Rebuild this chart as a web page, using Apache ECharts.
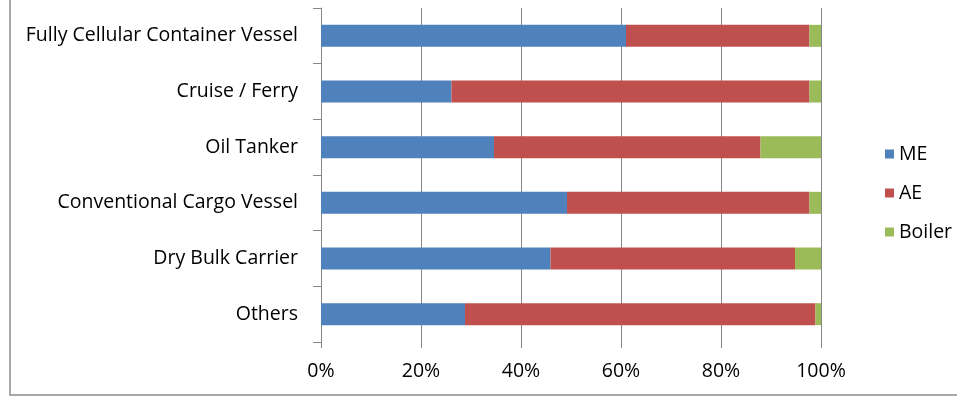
<!DOCTYPE html>
<html><head><meta charset="utf-8">
<script src="https://cdn.jsdelivr.net/npm/echarts@6/dist/echarts.min.js"></script>
<style>html,body{margin:0;padding:0;background:#fff}#c{width:957px;height:398px}</style>
</head><body><div id="c"></div>
<script>
const categories = ['Fully Cellular Container Vessel','Cruise / Ferry','Oil Tanker','Conventional Cargo Vessel','Dry Bulk Carrier','Others'];
const seriesNames = ['ME','AE','Boiler'];
const meValues = [61.0, 26.1, 34.6, 49.2, 45.9, 28.8];
const aeValues = [36.7, 71.6, 53.3, 48.5, 48.9, 70.1];
const boilerValues = [2.3, 2.3, 12.1, 2.3, 5.2, 1.1];
const xTicks = [0, 20, 40, 60, 80, 100];

const colors = ['#4F81BD','#C0504D','#9BBB59'];
const font = '"Open Sans", sans-serif';
const fs = 19.5;
const chart = echarts.init(document.getElementById('c'));
const data = [meValues, aeValues, boilerValues];
chart.setOption({
  animation:false,
  backgroundColor:'#fff',
  graphic:[{type:'rect',shape:{x:10,y:-5,width:1000,height:400},style:{fill:'none',stroke:'#8c8c8c',lineWidth:1.5},silent:true}],
  legend:{orient:'vertical',left:880,top:139,itemWidth:9,itemHeight:9,itemGap:19,icon:'rect',
    textStyle:{fontFamily:font,fontSize:fs,color:'#000'},data:seriesNames},
  grid:{left:321,right:136,top:8,bottom:56},
  xAxis:{type:'value',min:xTicks[0],max:xTicks[xTicks.length-1],interval:20,
    axisLine:{show:false},
    axisTick:{show:true,length:6,lineStyle:{color:'#868686'}},
    splitLine:{show:true,lineStyle:{color:'#868686',width:1}},
    axisLabel:{formatter:'{value}%',fontFamily:font,fontSize:fs,color:'#000',margin:19}},
  yAxis:{type:'category',data:categories,inverse:true,
    axisLine:{show:true,lineStyle:{color:'#868686'}},
    axisTick:{show:true,length:8,lineStyle:{color:'#868686'}},
    axisLabel:{fontFamily:font,fontSize:fs,color:'#000',margin:23}},
  series:seriesNames.map((n,i)=>({name:n,type:'bar',stack:'t',data:data[i],barWidth:22,
    itemStyle:{color:colors[i]}}))
});
</script></body></html>
